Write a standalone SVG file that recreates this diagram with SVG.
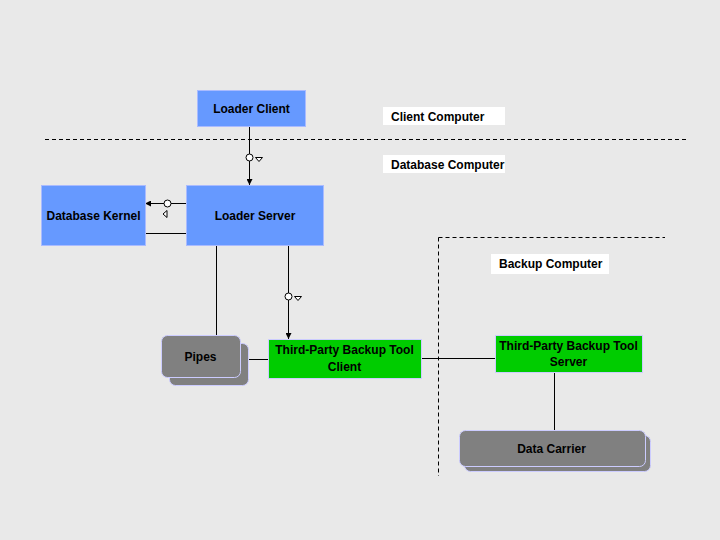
<svg xmlns="http://www.w3.org/2000/svg" width="720" height="540" viewBox="0 0 720 540">
<defs>
<style>
text{font-family:"Liberation Sans",Arial,sans-serif;font-weight:bold;font-size:12px;fill:#000}
.c{text-anchor:middle}
.blue{fill:#6699ff;stroke:#aabbff;stroke-width:1}
.green{fill:#00cc00;stroke:#ccccff;stroke-width:1}
.gray{fill:#808080;stroke:#ccccff;stroke-width:1}
.lbl{fill:#ffffff}
.ln{stroke:#000;stroke-width:1;fill:none}
.dash{stroke:#000;stroke-width:1;fill:none;stroke-dasharray:4 3}
.circ{fill:#fff;stroke:#000;stroke-width:1}
.tri{fill:#fff;stroke:#000;stroke-width:1}
</style>
<marker id="ah" markerWidth="6" markerHeight="6" refX="6" refY="3" orient="auto" markerUnits="userSpaceOnUse">
<path d="M0,0 L6,3 L0,6 z" fill="#000"/>
</marker>
</defs>
<rect width="720" height="540" fill="#e9e9e9"/>
<g id="boundaries">
<line class="dash" x1="45" y1="139.5" x2="688" y2="139.5"/>
<line class="dash" x1="438.5" y1="237.5" x2="665" y2="237.5"/>
<line class="dash" x1="438.5" y1="237.5" x2="438.5" y2="476"/>
</g>
<g id="label-client">
<rect class="lbl" x="383" y="107" width="122" height="18"/>
<text x="391" y="121">Client Computer</text>
</g>
<g id="label-database">
<rect class="lbl" x="383" y="155" width="122" height="18"/>
<text x="391" y="169">Database Computer</text>
</g>
<g id="label-backup">
<rect class="lbl" x="491" y="254" width="118" height="20"/>
<text x="499" y="268">Backup Computer</text>
</g>
<g id="connectors">
<line class="ln" x1="249.5" y1="126" x2="249.5" y2="185" marker-end="url(#ah)"/>
<circle class="circ" cx="249.5" cy="157.5" r="3.5"/>
<path class="tri" d="M255.5,157.5 L262.5,157.5 L259,161.5 z"/>
<line class="ln" x1="186" y1="203.5" x2="145" y2="203.5" marker-end="url(#ah)"/>
<circle class="circ" cx="167.5" cy="203.5" r="3.5"/>
<path class="tri" d="M167,210.5 L167,217.5 L163,214 z"/>
<line class="ln" x1="145" y1="233.5" x2="186" y2="233.5"/>
<line class="ln" x1="216.5" y1="245" x2="216.5" y2="336"/>
<line class="ln" x1="288.5" y1="245" x2="288.5" y2="339" marker-end="url(#ah)"/>
<circle class="circ" cx="288.5" cy="296.5" r="3.5"/>
<path class="tri" d="M294.5,296.5 L301.5,296.5 L298,300.5 z"/>
<line class="ln" x1="249" y1="359.5" x2="268" y2="359.5"/>
<line class="ln" x1="421" y1="358.5" x2="495" y2="358.5"/>
<line class="ln" x1="554.5" y1="372" x2="554.5" y2="430"/>
</g>
<g id="loader-client">
<rect class="blue" x="197.5" y="90.5" width="108" height="36"/>
<text class="c" x="251.5" y="113">Loader Client</text>
</g>
<g id="loader-server">
<rect class="blue" x="186.5" y="185.5" width="137" height="60"/>
<text class="c" x="255" y="220">Loader Server</text>
</g>
<g id="database-kernel">
<rect class="blue" x="41.5" y="185.5" width="104" height="60"/>
<text class="c" x="93.5" y="220">Database Kernel</text>
</g>
<g id="pipes">
<rect class="gray" x="169.5" y="343.5" width="79" height="42" rx="6"/>
<rect class="gray" x="161.5" y="335.5" width="79" height="42" rx="6"/>
<text class="c" x="200.5" y="361">Pipes</text>
</g>
<g id="tpbt-client">
<rect class="green" x="268.5" y="339.5" width="153" height="39"/>
<text class="c" x="344.5" y="354">Third-Party Backup Tool</text>
<text class="c" x="344.5" y="371">Client</text>
</g>
<g id="tpbt-server">
<rect class="green" x="495.5" y="335.5" width="147" height="37"/>
<text class="c" x="568.5" y="350">Third-Party Backup Tool</text>
<text class="c" x="568.5" y="366">Server</text>
</g>
<g id="data-carrier">
<rect class="gray" x="464.5" y="435.5" width="186" height="36" rx="6"/>
<rect class="gray" x="459.5" y="430.5" width="186" height="36" rx="6"/>
<text class="c" x="551.5" y="453">Data Carrier</text>
</g>
</svg>
